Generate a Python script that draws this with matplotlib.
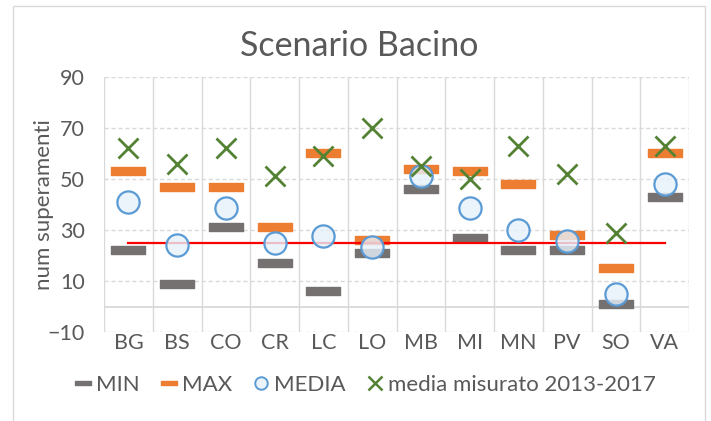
import matplotlib
matplotlib.use("Agg")
import matplotlib.pyplot as plt
from matplotlib.path import Path
from matplotlib.patches import Rectangle
import numpy as np

categories = ["BG", "BS", "CO", "CR", "LC", "LO", "MB", "MI", "MN", "PV", "SO", "VA"]
v_min = [22, 9, 31, 17, 6, 21, 46, 27, 22, 22, 1, 43]
v_max = [53, 47, 47, 31, 60, 26, 54, 53, 48, 28, 15, 60]
v_media = [41, 24, 38.5, 25, 27.5, 23.5, 51, 38.5, 30, 25.5, 5, 48]
v_misurato = [62, 56, 62, 51, 59, 70, 55, 50, 63, 52, 29, 63]
soglia = [25] * len(categories)
yticks = [-10, 10, 30, 50, 70, 90]

plt.rcParams['font.family'] = ['Lato', 'DejaVu Sans']
txt = '#595959'

fig = plt.figure(figsize=(7.11, 4.21), dpi=100)
fig.patches.append(Rectangle((13/711, -0.01), (705-13)/711, 1 - 6/421 + 0.01,
                             transform=fig.transFigure, fill=False,
                             edgecolor='#D9D9D9', linewidth=1.0))
ax = fig.add_axes([104/711, 1-332/421, (689-104)/711, (332-77)/421])

x = np.arange(len(categories))
ax.set_xlim(-0.5, len(categories) - 0.5)
ax.set_ylim(-10, 90)

# grid
for yv in yticks:
    ax.axhline(yv, color='#D9D9D9', lw=1.0, ls=(0, (3, 2)), zorder=0)
ax.axhline(0, color='#D9D9D9', lw=1.3, zorder=0)
for b in np.arange(-0.5, len(categories), 1.0):
    ax.axvline(b, color='#D9D9D9', lw=1.0, zorder=0)

bar = Path([(-1, -0.22), (1, -0.22), (1, 0.22), (-1, 0.22), (-1, -0.22)],
           [Path.MOVETO, Path.LINETO, Path.LINETO, Path.LINETO, Path.CLOSEPOLY])

ax.plot(x, v_min, ls='none', marker=bar, ms=24, mfc='#767171', mec='#767171',
        mew=1.0, label='MIN', zorder=3)
ax.plot(x, v_max, ls='none', marker=bar, ms=24, mfc='#ED7D31', mec='#ED7D31',
        mew=1.0, label='MAX', zorder=3)
ax.plot(x, soglia, color='#FF0000', lw=1.6, zorder=4)
ax.plot(x, v_media, ls='none', marker='o', ms=16, mfc=(0.90, 0.94, 0.98, 0.8),
        mec='#5B9BD5', mew=1.6, label='MEDIA', zorder=5)
ax.plot(x, v_misurato, ls='none', marker='x', ms=14, mec='#548235', mew=2.0,
        label='media misurato 2013-2017', zorder=6)

ax.set_xticks(x)
ax.set_xticklabels(categories)
ax.set_yticks(yticks)
ax.tick_params(length=0, labelsize=15.5, colors=txt)
ax.tick_params(axis='x', pad=1)
ax.tick_params(axis='y', pad=14)
for s in ax.spines.values():
    s.set_visible(False)

ax.set_ylabel('num superamenti', fontsize=16, color=txt, labelpad=-5)
fig.text(359/711, 1 - 46/421, 'Scenario Bacino', ha='center', va='center',
         fontsize=24.5, color=txt)

leg = fig.legend(loc='center', bbox_to_anchor=(365/711, 1 - 385/421), ncol=4,
                 frameon=False, fontsize=16, handlelength=0.8, handletextpad=0.2,
                 columnspacing=0.9)
sizes = [11, 11, 9, 9.5]
widths = [1.0, 1.0, 1.4, 1.8]
for h, s, w in zip(leg.legend_handles, sizes, widths):
    h.set_markersize(s)
    h.set_markeredgewidth(w)
for t in leg.get_texts():
    t.set_color(txt)

fig.savefig('out.png', dpi=100)
